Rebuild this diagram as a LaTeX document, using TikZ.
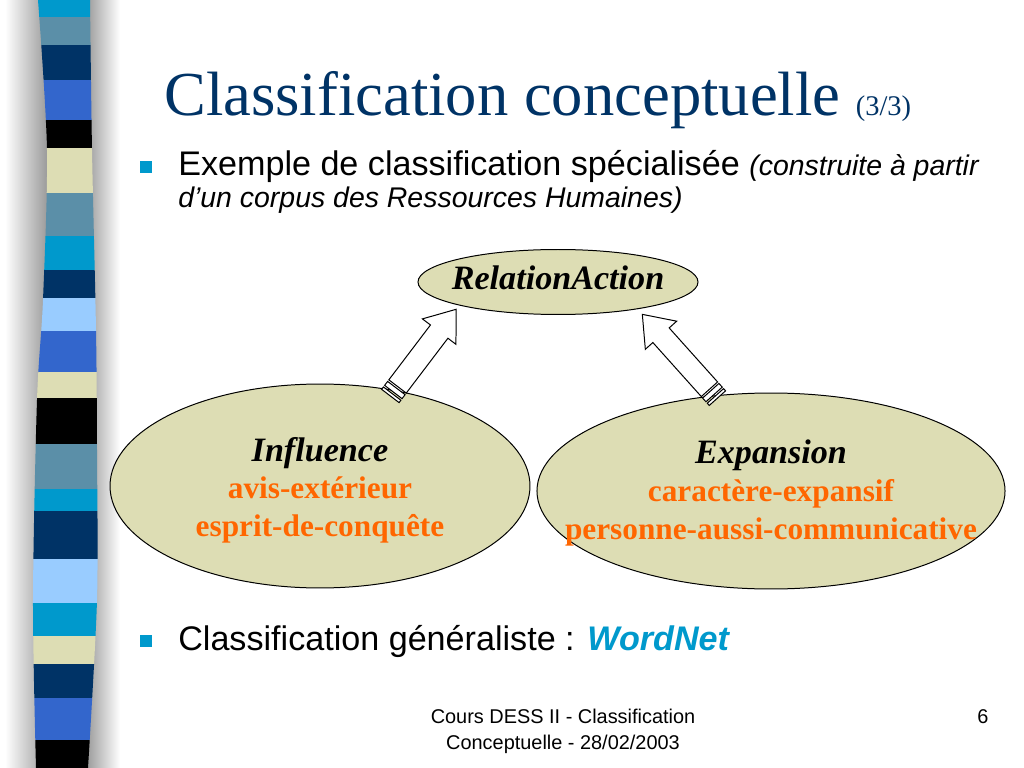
\documentclass[tikz,border=0pt]{standalone}
\usepackage{fontspec}
\setmainfont{Liberation Serif}
\setsansfont{Liberation Sans}
\usepackage{xcolor}
\usepackage{tikz}
\usetikzlibrary{positioning}
\usetikzlibrary{shapes}
\usetikzlibrary{calc}
\definecolor{titrebleu}{HTML}{003366}
\definecolor{pucecyan}{HTML}{0099CC}
\definecolor{orangetexte}{HTML}{FF6600}
\definecolor{fondbulle}{HTML}{DDDDB4}
\definecolor{bandacier}{HTML}{5B8FA8}
\definecolor{bandmarine}{HTML}{003366}
\definecolor{bandroyal}{HTML}{3366CC}
\definecolor{bandclair}{HTML}{99CCFF}

% fleche rayee de #1 vers #2
\newcommand{\flecherayee}[2]{%
  \foreach \d/\e in {0pt/2.1pt, 3.5pt/7pt}
    \draw[fleche] ($(#1)!\d!(#2)!7.7pt!90:(#2)$) -- ($(#1)!\e!(#2)!7.7pt!90:(#2)$)
      -- ($(#1)!\e!(#2)!7.7pt!-90:(#2)$) -- ($(#1)!\d!(#2)!7.7pt!-90:(#2)$) -- cycle;
  \draw[fleche] ($(#1)!8.4pt!(#2)!7.7pt!90:(#2)$)
    -- ($(#2)!19.7pt!(#1)!7.7pt!-90:(#1)$)
    -- ($(#2)!19.7pt!(#1)!14.8pt!-90:(#1)$)
    -- (#2)
    -- ($(#2)!19.7pt!(#1)!14.8pt!90:(#1)$)
    -- ($(#2)!19.7pt!(#1)!7.7pt!90:(#1)$)
    -- ($(#1)!8.4pt!(#2)!7.7pt!-90:(#2)$) -- cycle;
}
\newcommand{\petititalique}[1]{{\itshape\fontsize{20}{24}\selectfont #1}}

\begin{document}
\begin{tikzpicture}[
    x=0.703125pt, y=-0.703125pt,
    every node/.style={inner sep=0pt},
    bulle/.style={ellipse, draw=black, line width=0.7pt, fill=fondbulle},
    fleche/.style={draw=black, line width=0.7pt, fill=white},
    puce/.style={rectangle, fill=pucecyan, minimum size=8.4pt},
    texte/.style={font=\sffamily\fontsize{24}{28}\selectfont, anchor=base west},
    contenu/.style={align=center, font=\bfseries\fontsize{22}{26.4}\selectfont},
    pied/.style={font=\sffamily\fontsize{14}{16}\selectfont, anchor=base}]
    \useasboundingbox (0,0) rectangle (1024,768);
    \fill[white] (0,0) rectangle (1024,768);
    % bande de gauche
    \shade[left color=white, right color=gray!80] (5,0) rectangle (48,768);
    \shade[left color=gray!80, right color=white] (86,0) rectangle (120,768);
    \begin{scope}
        \clip plot[smooth] coordinates {(38,0) (47,150) (43,300) (37,400) (33,600) (36,768)}
            -- plot[smooth] coordinates {(88,768) (97,600) (97,450) (96,330) (92,150) (90,0)} -- cycle;
        \foreach \ya/\yb/\coul in {0/17/pucecyan, 17/45/bandacier, 45/80/bandmarine,
            80/120/bandroyal, 120/148/black, 148/193/fondbulle, 193/236/bandacier,
            236/270/pucecyan, 270/298/bandmarine, 298/331/bandclair, 331/372/bandroyal,
            372/398/fondbulle, 398/444/black, 444/489/bandacier, 489/511/pucecyan,
            511/559/bandmarine, 559/603/bandclair, 603/636/pucecyan, 636/664/fondbulle,
            664/698/bandmarine, 698/740/bandroyal, 740/768/black}
            \fill[\coul] (0,\ya) rectangle (130,\yb);
    \end{scope}
    % titre et puces
    \node[anchor=base west, font=\fontsize{44}{50}\selectfont, text=titrebleu] (titre) at (164,116)
        {Classification conceptuelle {\fontsize{20}{24}\selectfont (3/3)}};
    \node[puce] (p1) at (146,167) {};
    \node[texte] (t1) at (178,176) {Exemple de classification spécialisée \petititalique{(construite à partir}};
    \node[texte] (t1b) at ([yshift=-22pt]t1.base west) {\petititalique{d’un corpus des Ressources Humaines)}};
    \node[puce] (p2) at (146,641) {};
    \node[texte] (t2) at (178,650) {Classification généraliste : \textcolor{pucecyan}{\bfseries\itshape WordNet}};
    % bulles
    \node[bulle, minimum width=196.9pt, minimum height=45.7pt] (rel) at (558,282) {};
    \node[bulle, minimum width=295.3pt, minimum height=143.4pt] (infl) at (320,486) {};
    \node[bulle, minimum width=329.1pt, minimum height=137.8pt] (expa) at (771,491) {};
    \node[anchor=base, font=\bfseries\itshape\fontsize{24}{28}\selectfont] (nrel) at ([yshift=-5.6pt]rel.center) {RelationAction};
    \node[contenu] (ninfl) at ([yshift=-2.8pt]infl.center)
        {{\fontsize{24}{26.4}\selectfont\itshape Influence}\\
         \textcolor{orangetexte}{avis-extérieur}\\
         \textcolor{orangetexte}{esprit-de-conquête}};
    \node[contenu] (nexpa) at ([yshift=-1.4pt]expa.center)
        {{\fontsize{24}{26.4}\selectfont\itshape Expansion}\\
         \textcolor{orangetexte}{caractère-expansif}\\
         \textcolor{orangetexte}{personne-aussi-communicative}};
    % fleches
    \coordinate (d1) at ($(infl.center)!0.94!(infl.52)$);
    \coordinate (f1) at ($(rel.center)!1.10!(rel.195)$);
    \coordinate (d2) at ($(expa.center)!0.97!(expa.120)$);
    \coordinate (f2) at ($(rel.center)!1.15!(rel.339)$);
    \flecherayee{d1}{f1}
    \flecherayee{d2}{f2}
    % pied de page
    \node[pied] (pied1) at (563,723) {Cours DESS II - Classification};
    \node[pied] (pied2) at ([yshift=-18.3pt]pied1.base) {Conceptuelle - 28/02/2003};
    \node[pied] (num) at (983,723) {6};
\end{tikzpicture}
\end{document}
